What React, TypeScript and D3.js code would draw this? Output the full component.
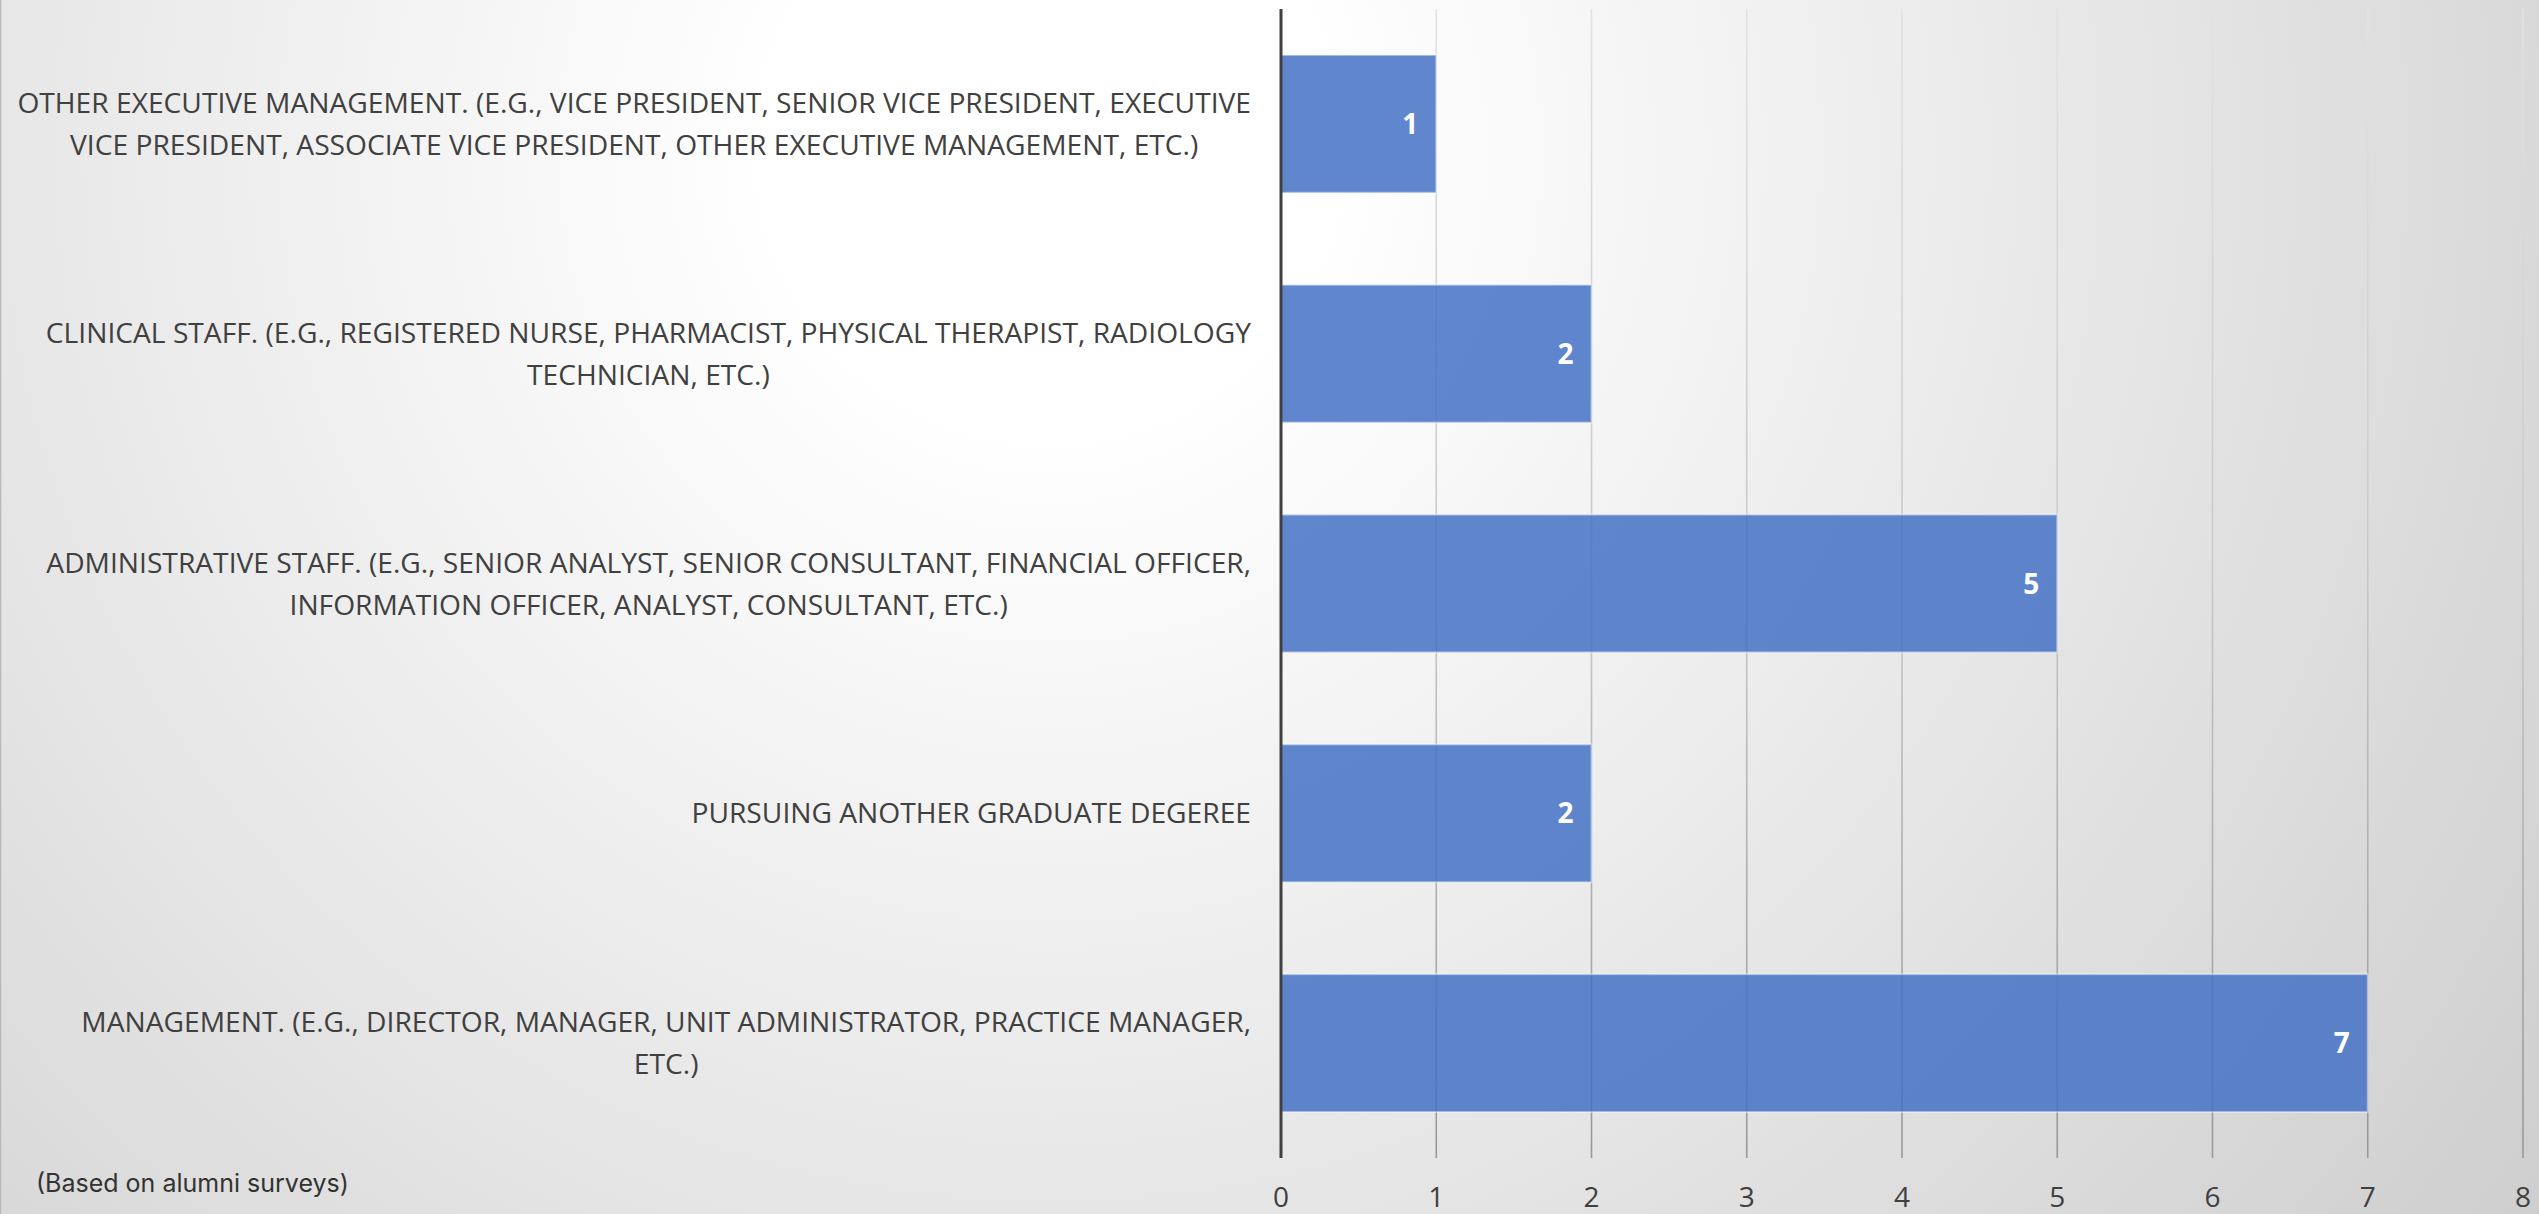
import React, { useEffect, useRef } from "react";
import * as d3 from "d3";

const W = 2539;
const H = 1214;

const categories: string[][] = [
  [
    "OTHER EXECUTIVE MANAGEMENT. (E.G., VICE PRESIDENT, SENIOR VICE PRESIDENT, EXECUTIVE",
    "VICE PRESIDENT, ASSOCIATE VICE PRESIDENT, OTHER EXECUTIVE MANAGEMENT, ETC.)",
  ],
  [
    "CLINICAL STAFF. (E.G., REGISTERED NURSE, PHARMACIST, PHYSICAL THERAPIST, RADIOLOGY",
    "TECHNICIAN, ETC.)",
  ],
  [
    "ADMINISTRATIVE STAFF. (E.G., SENIOR ANALYST, SENIOR CONSULTANT, FINANCIAL OFFICER,",
    "INFORMATION OFFICER, ANALYST, CONSULTANT, ETC.)",
  ],
  ["PURSUING ANOTHER GRADUATE DEGEREE"],
  [
    "MANAGEMENT. (E.G., DIRECTOR, MANAGER, UNIT ADMINISTRATOR, PRACTICE MANAGER,",
    "ETC.)",
  ],
];
const values: number[] = [1, 2, 5, 2, 7];
const xTicks: number[] = [0, 1, 2, 3, 4, 5, 6, 7, 8];
const caption = "(Based on alumni surveys)";

const margin = { left: 1281, right: 16, top: 9, bottom: 56 };
const FONT = "'Open Sans', sans-serif";

export default function App() {
  const ref = useRef<SVGSVGElement | null>(null);

  useEffect(() => {
    const svg = d3.select(ref.current);
    svg.selectAll("*").remove();

    const defs = svg.append("defs");
    const rg = defs
      .append("radialGradient")
      .attr("id", "bg")
      .attr("gradientUnits", "userSpaceOnUse")
      .attr("cx", 1050)
      .attr("cy", 150)
      .attr("r", 2000);
    rg.append("stop").attr("offset", 0).attr("stop-color", "#ffffff");
    rg.append("stop").attr("offset", 0.14).attr("stop-color", "#ffffff");
    rg.append("stop").attr("offset", 1).attr("stop-color", "#c9c9c9");

    const x = d3
      .scaleLinear()
      .domain([0, 8])
      .range([margin.left, W - margin.right]);
    const ids = categories.map((_, i) => String(i));
    const y = d3
      .scaleBand<string>()
      .domain(ids)
      .range([margin.top, H - margin.bottom])
      .paddingInner(0.4)
      .paddingOuter(0.2);

    const lg = defs
      .append("linearGradient")
      .attr("id", "grid")
      .attr("gradientUnits", "userSpaceOnUse")
      .attr("x1", 0)
      .attr("x2", 0)
      .attr("y1", margin.top)
      .attr("y2", H - margin.bottom);
    lg.append("stop").attr("offset", 0).attr("stop-color", "#e2e2e2");
    lg.append("stop").attr("offset", 0.5).attr("stop-color", "#c8c8c8");
    lg.append("stop").attr("offset", 1).attr("stop-color", "#989898");

    svg.append("rect").attr("width", W).attr("height", H).attr("fill", "url(#bg)");
    svg
      .append("line")
      .attr("x1", 0.5)
      .attr("x2", 0.5)
      .attr("y1", 0)
      .attr("y2", H)
      .attr("stroke", "#b8b8b8")
      .attr("stroke-width", 1.5);

    // gridlines
    svg
      .append("g")
      .selectAll("line")
      .data(xTicks.filter((t) => t > 0))
      .join("line")
      .attr("x1", (d) => x(d))
      .attr("x2", (d) => x(d))
      .attr("y1", margin.top)
      .attr("y2", H - margin.bottom)
      .attr("stroke", "url(#grid)")
      .attr("stroke-width", 1.6);

    // bars
    svg
      .append("g")
      .selectAll("rect")
      .data(values)
      .join("rect")
      .attr("x", x(0))
      .attr("y", (_, i) => y(ids[i]) as number)
      .attr("width", (d) => x(d) - x(0))
      .attr("height", y.bandwidth())
      .attr("fill", "#4472c4")
      .attr("fill-opacity", 0.85)
      .attr("stroke", "#ffffff")
      .attr("stroke-opacity", 0.45)
      .attr("stroke-width", 2);

    // value labels
    svg
      .append("g")
      .selectAll("text")
      .data(values)
      .join("text")
      .attr("x", (d) => x(d) - 18)
      .attr("y", (_, i) => (y(ids[i]) as number) + y.bandwidth() / 2)
      .attr("dy", "0.36em")
      .attr("text-anchor", "end")
      .attr("font-family", FONT)
      .attr("font-weight", 700)
      .attr("font-size", 28)
      .attr("fill", "#ffffff")
      .text((d) => String(d));

    // axis line
    svg
      .append("line")
      .attr("x1", x(0))
      .attr("x2", x(0))
      .attr("y1", margin.top)
      .attr("y2", H - margin.bottom)
      .attr("stroke", "#404040")
      .attr("stroke-width", 3);

    // x tick labels
    svg
      .append("g")
      .selectAll("text")
      .data(xTicks)
      .join("text")
      .attr("x", (d) => x(d))
      .attr("y", 1197)
      .attr("dy", "0.36em")
      .attr("text-anchor", "middle")
      .attr("font-family", FONT)
      .attr("font-size", 28)
      .attr("fill", "#404040")
      .text((d) => String(d));

    // category labels
    const labelRight = 1251;
    const lineH = 42;
    categories.forEach((lines, i) => {
      const cy = (y(ids[i]) as number) + y.bandwidth() / 2;
      const g = svg.append("g");
      const texts = g
        .selectAll("text")
        .data(lines)
        .join("text")
        .attr("y", (_, j) => cy + (j - (lines.length - 1) / 2) * lineH)
        .attr("dy", "0.36em")
        .attr("text-anchor", "middle")
        .attr("font-family", FONT)
        .attr("font-size", 28.2)
        .attr("fill", "#404040")
        .text((d) => d);
      let maxW = 0;
      texts.each(function () {
        const w = (this as SVGTextElement).getComputedTextLength();
        if (w > maxW) maxW = w;
      });
      texts.attr("x", labelRight - maxW / 2);
    });

    svg
      .append("text")
      .attr("x", 36)
      .attr("y", 1183)
      .attr("dy", "0.36em")
      .attr("font-family", "Inter, sans-serif")
      .attr("font-size", 25)
      .attr("fill", "#333333")
      .text(caption);
  }, []);

  return (
    <svg
      ref={ref}
      width={W}
      height={H}
      style={{ position: "absolute", left: 0, top: 0, display: "block" }}
    />
  );
}
